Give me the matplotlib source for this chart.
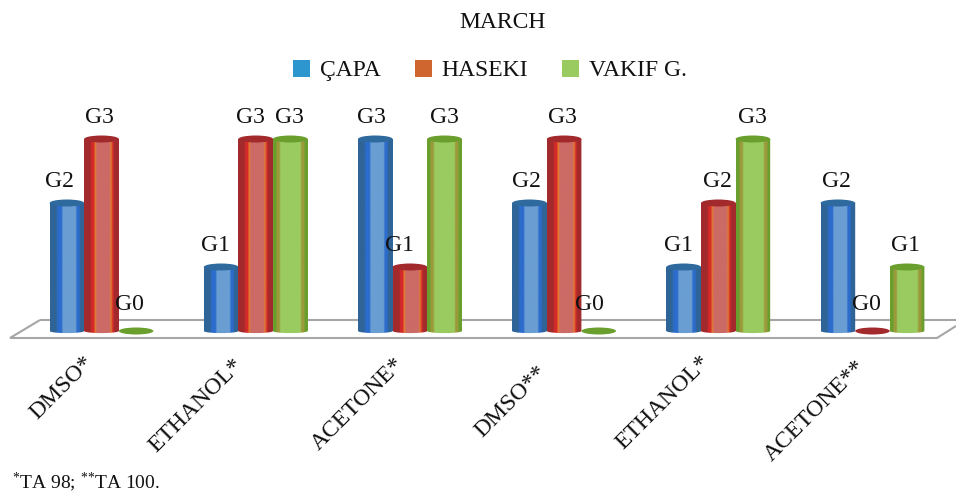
import numpy as np
import matplotlib
matplotlib.use("Agg")
import matplotlib.pyplot as plt
from matplotlib.patches import Ellipse, Polygon, Patch
from matplotlib.transforms import ScaledTranslation

plt.rcParams['font.family'] = ['Liberation Serif', 'DejaVu Serif']
plt.rcParams['mathtext.fontset'] = 'custom'
plt.rcParams['mathtext.rm'] = 'Liberation Serif'
plt.rcParams['mathtext.default'] = 'rm'

title = "MARCH"
categories = ["DMSO*", "ETHANOL*", "ACETONE*", "DMSO**", "ETHANOL*", "ACETONE**"]
series_names = ["ÇAPA", "HASEKI", "VAKIF G."]
capa = [2, 1, 3, 2, 1, 2]
haseki = [3, 3, 1, 3, 2, 0]
vakif = [0, 3, 3, 0, 3, 1]
footnote = r"$^{*}$TA 98; $^{{*}{*}}$TA 100."

legend_colors = ["#2e96cf", "#cf6630", "#9acb60"]
# (colour, share of the cylinder's width)
stripes = [
    [("#2f6497", 4), ("#2c6ccc", 3), ("#6a9ed3", 8), ("#2c6ccc", 2), ("#2f6497", 3)],
    [("#a32a2c", 4), ("#d62a2a", 2), ("#e07a30", 1), ("#cc6a66", 8), ("#e07a30", 1), ("#d62a2a", 1), ("#a32a2c", 3)],
    [("#6a9f2e", 2), ("#9a9a3a", 2), ("#9acb60", 12), ("#9a9a3a", 2), ("#6a9f2e", 2)],
]
cap_colors = ["#2f6a9f", "#a32a2c", "#6a9f2e"]

W, H = 956, 494
PX_GROUP, PX_UNIT = 154.2, 64.0
X0_PX, Y0_PX, AX_BOTTOM_PX = 101.5, 331.0, 346.0

fig = plt.figure(figsize=(W / 100, H / 100), dpi=100, facecolor="white")
ax = fig.add_axes([0, 1 - AX_BOTTOM_PX / H, 1, AX_BOTTOM_PX / H])

bar_w = 34.6 / PX_GROUP
cap_h = 7.0 / PX_UNIT

for s, vals in enumerate([capa, haseki, vakif]):
    base = 3 + s
    xs = np.arange(len(vals)) + (s - 1) * bar_w
    bars = ax.bar(xs, vals, bar_w, color=cap_colors[s], zorder=base, label=series_names[s])
    strip = np.array([[matplotlib.colors.to_rgb(c) for c, n in stripes[s] for _ in range(n)]])
    for x, v in zip(xs, vals):
        if v > 0:
            t = np.linspace(np.pi, 2 * np.pi, 40)
            bottom = np.c_[x + bar_w / 2 * np.cos(t), cap_h * 0.3 * np.sin(t)]
            outline = np.vstack([bottom, [[x + bar_w / 2, v], [x - bar_w / 2, v]]])
            clip = Polygon(outline, closed=True, transform=ax.transData, fc="none", ec="none")
            ax.add_patch(clip)
            im = ax.imshow(strip, extent=(x - bar_w / 2, x + bar_w / 2, -cap_h, v),
                           aspect="auto", interpolation="bilinear", zorder=base + 0.1)
            im.set_clip_path(clip)
        ax.add_patch(Ellipse((x, v), bar_w, cap_h, fc=cap_colors[s], ec="none", zorder=base + 0.2))

ax.set_xlim(-X0_PX / PX_GROUP, (W - X0_PX) / PX_GROUP)
ax.set_ylim((Y0_PX - AX_BOTTOM_PX) / PX_UNIT, Y0_PX / PX_UNIT)


def fig_xy(points):
    return [(x / W, 1 - y / H) for x, y in points]


floor = [(40, 320), (956, 320)], [(40, 320), (10, 338), (937, 338), (956, 326)]
for seg in floor:
    ax.add_patch(Polygon(fig_xy(seg), closed=False, fill=False, ec="#a6a6a6", lw=1.5,
                         transform=fig.transFigure, clip_on=False, zorder=1))

# data labels, nudged sideways as in the reference
nudges = [[-7, -6, -4, -3, -5, -1], [-2, -5, -10, -2, -1, -6], [-7, -1, 0, -9, 0, -2]]
rises = {0: 26, 1: 22, 2: 22, 3: 22}
for s, vals in enumerate([capa, haseki, vakif]):
    for i, v in enumerate(vals):
        ax.annotate(f"G{v}", xy=(i + (s - 1) * bar_w, v),
                    xytext=(nudges[s][i] * 0.72, rises[v] * 0.72), textcoords="offset points",
                    ha="center", va="center", fontsize=17, color="#111111", zorder=10)

# category labels on the real x axis
for sp in ax.spines.values():
    sp.set_visible(False)
ax.patch.set_visible(False)
ax.set_yticks([])
ax.set_xticks(np.arange(len(categories)))
ax.set_xticklabels(categories, rotation=45, ha="right", va="top", rotation_mode="anchor",
                   fontsize=17, color="#111111")
ax.tick_params(axis="x", length=0, pad=4)
label_shift_px = [(-22, 0), (-27, -3), (-19, -2), (-31, -10), (-22, 0), (-21, -5)]
for lab, (dx, dy) in zip(ax.get_xticklabels(), label_shift_px):
    lab.set_transform(lab.get_transform() + ScaledTranslation((dx + 3) * 0.72 / 72, dy * 0.72 / 72, fig.dpi_scale_trans))

fig.text(503 / W, 1 - 23 / H, title, ha="center", va="center", fontsize=17, color="#111111")
handles = [Patch(fc=c, ec="none") for c in legend_colors]
fig.legend(handles, series_names, ncol=3, loc="center", bbox_to_anchor=(490 / W, 1 - 70.5 / H),
           frameon=False, fontsize=17, handlelength=0.72, handleheight=0.72,
           handletextpad=0.42, columnspacing=1.45, borderpad=0, labelcolor="#111111")
fig.text(12 / W, 1 - 489 / H, footnote, ha="left", va="baseline", fontsize=14, color="#111111")

fig.savefig("out.png", dpi=100, facecolor="white")
